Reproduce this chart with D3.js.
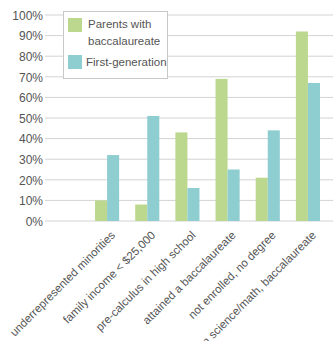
<!DOCTYPE html>
<html><head><meta charset="utf-8">
<script src="https://cdn.jsdelivr.net/npm/d3@7"></script>
<style>body{margin:0;background:#fff}svg{display:block}</style>
</head><body><svg id="c" width="333" height="341"></svg>
<script>
const categories = ["underrepresented minorities","family income < $25,000","pre-calculus in high school","attained a baccalaureate","not enrolled, no degree","in science/math, baccalaureate"];
const seriesNames = ["Parents with baccalaureate","First-generation"];
const parentsValues = [10, 8, 43, 69, 21, 92];
const firstGenValues = [32, 51, 16, 25, 44, 67];
const yTicks = [0,10,20,30,40,50,60,70,80,90,100];
const colors = ["#bcd88f","#8ecdd0"];

const svg = d3.select("#c");
const font = "'Liberation Sans', Arial, sans-serif";
const y = d3.scaleLinear().domain([0,100]).range([221,15]);
const x = d3.scaleBand().domain(categories).range([87,328]).paddingInner(0.4).paddingOuter(0.2);
const xs = d3.scaleBand().domain(seriesNames).range([0, x.bandwidth()]);

// grid
svg.append("g").selectAll("line").data(yTicks).join("line")
  .attr("x1",45).attr("x2",333).attr("y1",d=>y(d)).attr("y2",d=>y(d))
  .attr("stroke","#d3d3d3").attr("stroke-width",1);

// y axis labels
const yAxis = d3.axisLeft(y).tickValues(yTicks).tickFormat(d=>d+"%").tickSize(0).tickPadding(0);
const ya = svg.append("g").attr("transform","translate(43,0)").call(yAxis);
ya.select(".domain").remove();
ya.selectAll("text").attr("font-family",font).attr("font-size",12).attr("fill","#555").attr("dy","0.35em");

// bars
const data = categories.map((c,i)=>({c, vals:[parentsValues[i], firstGenValues[i]]}));
const g = svg.append("g").selectAll("g").data(data).join("g")
  .attr("transform",d=>`translate(${x(d.c)},0)`);
g.selectAll("rect").data(d=>d.vals.map((v,j)=>({s:seriesNames[j],v,j}))).join("rect")
  .attr("x",d=>xs(d.s)).attr("width",xs.bandwidth())
  .attr("y",d=>y(d.v)).attr("height",d=>y(0)-y(d.v))
  .attr("fill",d=>colors[d.j]);

// x labels
svg.append("g").selectAll("text").data(categories).join("text")
  .attr("transform",d=>`translate(${x(d)+x.bandwidth()/2+6},233) rotate(-45)`)
  .attr("text-anchor","end").attr("dy","0.35em")
  .attr("font-family",font).attr("font-size",11.5).attr("fill","#555")
  .text(d=>d);

// legend
const lg = svg.append("g");
lg.append("rect").attr("x",63.5).attr("y",11.5).attr("width",104).attr("height",67)
  .attr("fill","#fff").attr("stroke","#c8c8c8");
lg.append("rect").attr("x",68).attr("y",18).attr("width",14).attr("height",14).attr("fill",colors[0]);
lg.append("rect").attr("x",68).attr("y",55).attr("width",14).attr("height",14).attr("fill",colors[1]);
const lt = lg.append("text").attr("font-family",font).attr("font-size",11.5).attr("fill","#555");
lt.append("tspan").attr("x",88).attr("y",28).text("Parents with");
lt.append("tspan").attr("x",88).attr("y",45).text("baccalaureate");
lg.append("text").attr("x",86).attr("y",66).attr("font-family",font).attr("font-size",11.5).attr("fill","#555").text("First-generation");
</script></body></html>
